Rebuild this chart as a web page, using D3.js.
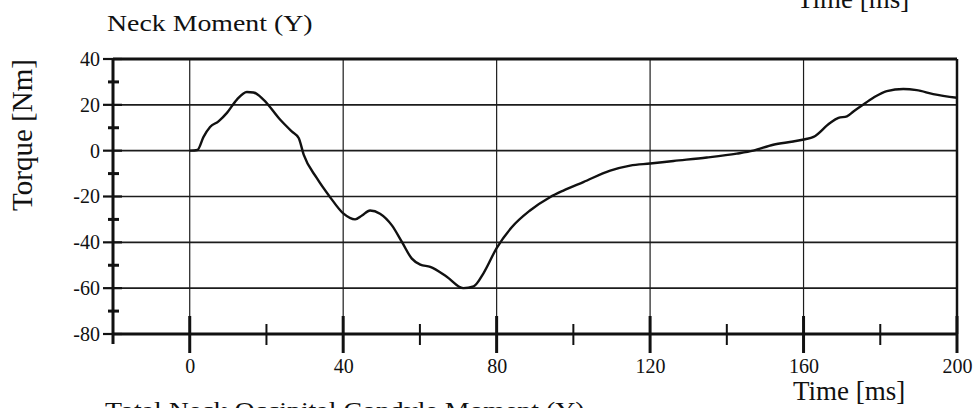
<!DOCTYPE html>
<html>
<head>
<meta charset="utf-8">
<script src="https://cdn.jsdelivr.net/npm/d3@7"></script>
<style>
  html, body { margin: 0; padding: 0; background: #fff; }
  svg { display: block; }
  text { font-family: "Liberation Serif", "Times New Roman", serif; fill: #111; }
</style>
</head>
<body>
<script>
// ---- data ----
const time = [0, 2, 3.6, 5.3, 7.5, 9.7, 12.3, 14.9, 16.6, 19.2, 23.6, 26.6, 28.4, 29.7, 33.1, 36.6, 40.1, 43.1, 44.9, 47, 49.6, 52.7, 55.3, 57.9, 60.1, 62.7, 67, 71.3, 74, 76.6, 80, 84, 88.7, 93.9, 97.4, 102.6, 109.6, 114.8, 120, 126.1, 134.8, 142.6, 146.9, 152.1, 157.3, 160.4, 162.6, 166.9, 169.1, 171.3, 173, 175.2, 178.2, 181.7, 186, 189.5, 193.8, 200];
const torque = [0, 0.3, 6, 10.3, 12.8, 16.5, 22.3, 25.6, 25.4, 22.3, 13.5, 8.4, 5.5, -1.7, -11.9, -20.3, -27.5, -30, -28.3, -26.1, -27.5, -32.6, -39.8, -47.1, -49.7, -50.7, -55, -60, -59.2, -53.4, -42.5, -33.3, -26.1, -20.3, -17.4, -13.7, -8.7, -6.5, -5.6, -4.5, -3, -1.3, 0, 2.6, 4, 5, 6, 12.1, 14.3, 15, 17.1, 19.7, 23.1, 26, 26.9, 26.4, 24.7, 23.1];
const xTicks = [0, 40, 80, 120, 160, 200];
const xMinorTicks = [20, 60, 100, 140, 180];
const yTicks = [-80, -60, -40, -20, 0, 20, 40];
const yMinorTicks = [-70, -50, -30, -10, 10, 30];
const xGrid = [0, 40, 80, 120, 160];
const yGrid = [-60, -40, -20, 0, 20];
const titleText = "Neck Moment (Y)";
const yLabelText = "Torque [Nm]";
const xLabelText = "Time [ms]";
const captionText = "Total Neck Occipital Condyle Moment (Y)";

// ---- layout ----
const W = 978, H = 408;
const x = d3.scaleLinear().domain([-20, 200]).range([113, 957]);
const y = d3.scaleLinear().domain([-80, 40]).range([334, 59]);
const ink = "#111";

const svg = d3.select("body").append("svg").attr("width", W).attr("height", H);

// grid
svg.append("g").selectAll("line").data(yGrid).join("line")
  .attr("x1", x(-20)).attr("x2", x(200))
  .attr("y1", d => y(d)).attr("y2", d => y(d))
  .attr("stroke", "#1c1c1c").attr("stroke-width", 1.6);
svg.append("g").selectAll("line").data(xGrid).join("line")
  .attr("x1", d => x(d)).attr("x2", d => x(d))
  .attr("y1", y(40)).attr("y2", y(-80))
  .attr("stroke", "#1c1c1c").attr("stroke-width", 1.2);

// frame
svg.append("line").attr("x1", x(-20)).attr("x2", x(200)).attr("y1", y(40)).attr("y2", y(40))
  .attr("stroke", ink).attr("stroke-width", 3);
svg.append("line").attr("x1", x(200)).attr("x2", x(200)).attr("y1", y(40)).attr("y2", y(-80))
  .attr("stroke", ink).attr("stroke-width", 2.5);
svg.append("line").attr("x1", x(-20)).attr("x2", x(200)).attr("y1", y(-80)).attr("y2", y(-80))
  .attr("stroke", ink).attr("stroke-width", 3);
svg.append("line").attr("x1", x(-20)).attr("x2", x(-20)).attr("y1", y(40) - 1).attr("y2", y(-80) + 10)
  .attr("stroke", ink).attr("stroke-width", 3);

// y ticks
svg.append("g").selectAll("line").data(yTicks).join("line")
  .attr("x1", x(-20) - 10).attr("x2", x(-20) + 9)
  .attr("y1", d => y(d)).attr("y2", d => y(d))
  .attr("stroke", ink).attr("stroke-width", 2.2);
svg.append("g").selectAll("line").data(yMinorTicks).join("line")
  .attr("x1", x(-20) - 5).attr("x2", x(-20) + 6)
  .attr("y1", d => y(d)).attr("y2", d => y(d))
  .attr("stroke", ink).attr("stroke-width", 3);

// x ticks
svg.append("g").selectAll("line").data(xTicks).join("line")
  .attr("x1", d => x(d)).attr("x2", d => x(d))
  .attr("y1", y(-80) - 18).attr("y2", y(-80) + 19)
  .attr("stroke", ink).attr("stroke-width", 3);
svg.append("g").selectAll("line").data(xMinorTicks).join("line")
  .attr("x1", d => x(d)).attr("x2", d => x(d))
  .attr("y1", y(-80) - 10).attr("y2", y(-80) + 11)
  .attr("stroke", ink).attr("stroke-width", 2);

// axis labels via d3 axes
const yAxis = svg.append("g").attr("transform", `translate(${x(-20)},0)`)
  .call(d3.axisLeft(y).tickValues(yTicks).tickSize(0).tickPadding(13).tickFormat(d => String(d)));
yAxis.select(".domain").remove();
yAxis.selectAll("text").attr("font-size", 20).attr("font-family", "Liberation Serif").attr("fill", ink);

const xAxis = svg.append("g").attr("transform", `translate(0,${y(-80)})`)
  .call(d3.axisBottom(x).tickValues(xTicks).tickSize(0).tickFormat(d => String(d)));
xAxis.select(".domain").remove();
xAxis.selectAll("text").attr("y", 39).attr("dy", 0).attr("font-size", 20)
  .attr("font-family", "Liberation Serif").attr("fill", ink);

// curve
const line = d3.line().x(d => x(d[0])).y(d => y(d[1])).curve(d3.curveMonotoneX);
svg.append("path").datum(time.map((t, i) => [t, torque[i]]))
  .attr("d", line).attr("fill", "none").attr("stroke", ink)
  .attr("stroke-width", 2.4).attr("stroke-linejoin", "round");

// texts
svg.append("g").attr("transform", "translate(107,31) scale(1.16,1)")
  .append("text").attr("font-size", 24).text(titleText);
svg.append("text").attr("transform", "translate(32,135) rotate(-90)")
  .attr("text-anchor", "middle").attr("font-size", 29).text(yLabelText);
svg.append("text").attr("x", 793).attr("y", 400).attr("font-size", 27).text(xLabelText);
svg.append("text").attr("x", 797).attr("y", 8).attr("font-size", 27).text(xLabelText);
svg.append("g").attr("transform", "translate(105,418) scale(1.16,1)")
  .append("text").attr("font-size", 24).text(captionText);
</script>
</body>
</html>
